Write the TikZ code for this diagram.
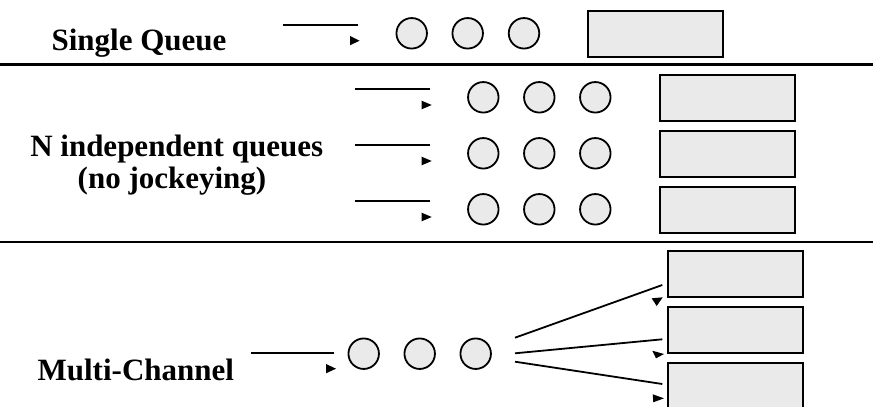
\documentclass[tikz,border=0pt]{standalone}
\usepackage{fontspec}
\setmainfont{Liberation Serif}
\definecolor{unitgray}{HTML}{EAEAEA}
\tikzset{
  customer/.style={circle, draw=black, fill=unitgray, line width=1.8pt,
    minimum size=30.5pt, inner sep=0pt},
  server/.style={rectangle, draw=black, fill=unitgray, line width=2pt,
    minimum width=134.5pt, minimum height=46pt, inner sep=0pt},
  feed/.style={line width=1.8pt, line cap=butt},
  tipmark/.style={fill=black},
  divider/.style={line width=2.2pt},
  caption/.style={font=\bfseries\fontsize{31}{31}\selectfont, anchor=base, inner sep=0pt}
}
\begin{document}
\begin{tikzpicture}[x=1pt, y=-1pt]
\useasboundingbox (0,0) rectangle (873,407);

% ---------- single queue ----------
\node[caption] (lblA) at (139,50) {Single Queue};
\coordinate (inA0) at (283,25);
\coordinate (inA1) at (358,25);
\draw[feed] (inA0) -- (inA1);
\fill[tipmark] (350,36) -- (359.5,40.7) -- (350,45.3) -- cycle;
\node[customer] (cA1) at (411.7,33.3) {};
\node[customer] (cA2) at (467.7,33.3) {};
\node[customer] (cA3) at (524,33.3) {};
\node[server] (sA) at (655.7,33.7) {};

\coordinate (divL1) at (0,64.5);
\coordinate (divR1) at (873,64.5);
\draw[divider] (divL1) -- (divR1);

% ---------- N independent queues ----------
\node[caption] (lblB1) at (176.7,156.7) {N independent queues};
\node[caption] (lblB2) at (172,188.3) {(no jockeying)};
\foreach \i/\yy in {1/97.3, 2/153.3, 3/209.3} {
  \coordinate (inB\i a) at (355,\yy-8);
  \coordinate (inB\i b) at (430,\yy-8);
  \draw[feed] (inB\i a) -- (inB\i b);
  \fill[tipmark] (421.7,\yy+3.4) -- (431.7,\yy+7.7) -- (421.7,\yy+12) -- cycle;
  \node[customer] (cB\i1) at (483.3,\yy) {};
  \node[customer] (cB\i2) at (539.3,\yy) {};
  \node[customer] (cB\i3) at (595.3,\yy) {};
  \node[server] (sB\i) at (727.5,\yy+0.2) {};
}

\coordinate (divL2) at (0,241.7);
\coordinate (divR2) at (873,241.7);
\draw[divider] (divL2) -- (divR2);

% ---------- multi-channel ----------
\node[caption] (lblC) at (135.8,380) {Multi-Channel};
\coordinate (inC0) at (251,353.3);
\coordinate (inC1) at (334.3,353.3);
\draw[feed] (inC0) -- (inC1);
\fill[tipmark] (326,364) -- (336,368.7) -- (326,373.3) -- cycle;
\node[customer] (cC1) at (363.7,353.7) {};
\node[customer] (cC2) at (419.7,353.7) {};
\node[customer] (cC3) at (475.7,353.7) {};
\node[server] (sC1) at (735.7,273.5) {};
\node[server] (sC2) at (735.7,329.7) {};
\node[server] (sC3) at (735.7,385.5) {};

\coordinate (fanA) at (515,337.7);
\coordinate (fanB) at (515,353.3);
\coordinate (fanC) at (515,361.7);
\coordinate (endA) at (662.3,285);
\coordinate (endB) at (662.3,339.3);
\coordinate (endC) at (662.3,384);
\draw[feed] (fanA) -- (endA);
\draw[feed] (fanB) -- (endB);
\draw[feed] (fanC) -- (endC);
\fill[tipmark] (651.7,298.3) -- (662.7,297.3) -- (656.7,306) -- cycle;
\fill[tipmark] (652.3,350.7) -- (664,354) -- (656,358.3) -- cycle;
\fill[tipmark] (652.7,394.3) -- (664,398.3) -- (653.3,402.3) -- cycle;
\end{tikzpicture}
\end{document}
